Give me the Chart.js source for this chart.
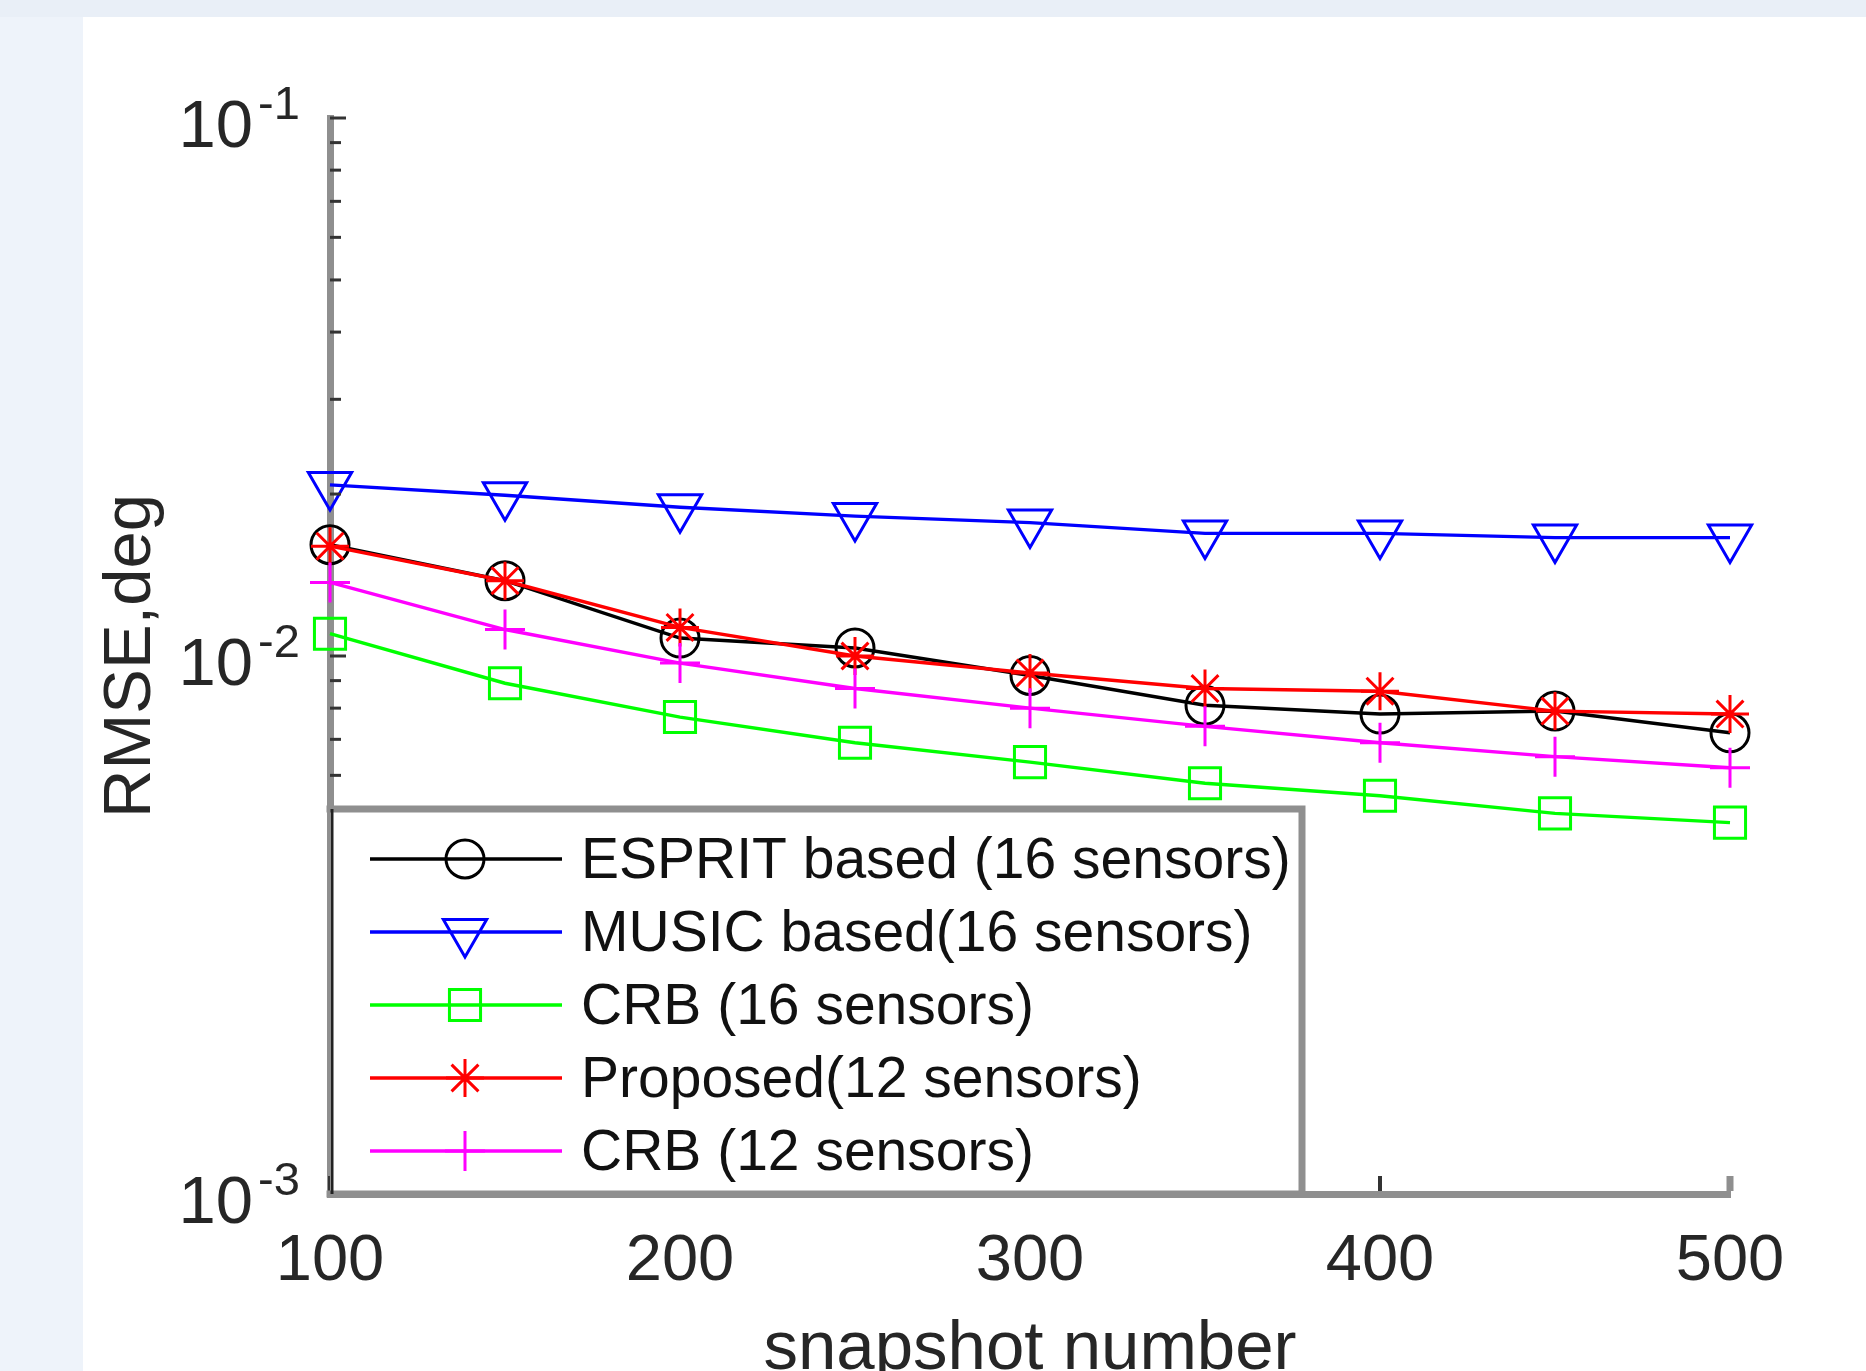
<!DOCTYPE html>
<html>
<head>
<meta charset="utf-8">
<script src="https://cdn.jsdelivr.net/npm/chart.js@4.4.1/dist/chart.umd.min.js"></script>
<style>
  html, body { margin: 0; padding: 0; }
  body { width: 1866px; height: 1371px; background: #e9eff7; position: relative; overflow: hidden; }
  #strip { position: absolute; left: 0; top: 17px; width: 83px; bottom: 0; background: #eef3fa; }
  #panel { position: absolute; left: 83px; top: 17px; right: 0; bottom: 0; background: #fff; }
  #chart { position: absolute; left: 0; top: 0; }
</style>
</head>
<body>
<div id="strip"></div>
<div id="panel"></div>
<canvas id="chart" width="1866" height="1371"></canvas>
<script>
// snapshot counts on the x axis
const snapshots = [100, 150, 200, 250, 300, 350, 400, 450, 500];

// RMSE (deg)
const espritRmse   = [0.0161, 0.0138, 0.0108, 0.01035, 0.0092, 0.0081, 0.0078, 0.0079, 0.0072];
const musicRmse    = [0.0208, 0.0199, 0.0189, 0.0182, 0.0177, 0.0169, 0.0169, 0.0166, 0.0166];
const crb16Rmse    = [0.0110, 0.0089, 0.0077, 0.0069, 0.00635, 0.0058, 0.0055, 0.0051, 0.0049];
const proposedRmse = [0.0160, 0.0138, 0.0113, 0.0100, 0.0093, 0.0087, 0.0086, 0.0079, 0.0078];
const crb12Rmse    = [0.0137, 0.0112, 0.0097, 0.0087, 0.0080, 0.0074, 0.0069, 0.0065, 0.0062];

const seriesLabels = [
  'ESPRIT based (16 sensors)',
  'MUSIC based(16 sensors)',
  'CRB (16 sensors)',
  'Proposed(12 sensors)',
  'CRB (12 sensors)',
];

const yTickExps = [-1, -2, -3];
const xTicks    = [100, 200, 300, 400, 500];

const FONT      = '"Liberation Sans", Arial, Helvetica, sans-serif';
const AXIS_GRAY = '#8f8f8f';
const TEXT      = '#262626';

function series(label, data, color, style, radius, rotation, order) {
  return {
    label, data, order,
    borderColor:          color,
    borderWidth:          3.4,
    pointStyle:           style,
    pointRadius:          radius,
    pointRotation:        rotation,
    pointBorderColor:     color,
    pointBorderWidth:     3,
    pointBackgroundColor: 'rgba(0,0,0,0)',
    pointHoverRadius:     radius,
    tension:              0,
    clip:                 false,
    fill:                 false,
  };
}

const datasets = [
  series(seriesLabels[0], espritRmse,   '#000000', 'circle',   19, 0,   5),
  series(seriesLabels[1], musicRmse,    '#0000ff', 'triangle', 25, 180, 4),
  series(seriesLabels[2], crb16Rmse,    '#00ff00', 'rect',     22, 0,   3),
  series(seriesLabels[3], proposedRmse, '#ff0000', 'star',     19, 0,   2),
  series(seriesLabels[4], crb12Rmse,    '#ff00ff', 'cross',    20, 0,   1),
];

// marker for the legend, same shapes as chart.js point styles
function drawMarker(ctx, style, x, y, r, rot) {
  ctx.beginPath();
  if (style === 'circle') {
    ctx.arc(x, y, r, 0, Math.PI * 2);
  } else if (style === 'triangle') {
    let a = rot * Math.PI / 180;
    for (let i = 0; i < 3; i++) {
      const px = x + Math.sin(a) * r, py = y - Math.cos(a) * r;
      i ? ctx.lineTo(px, py) : ctx.moveTo(px, py);
      a += Math.PI * 2 / 3;
    }
    ctx.closePath();
  } else if (style === 'rect') {
    const s = Math.SQRT1_2 * r;
    ctx.rect(x - s, y - s, 2 * s, 2 * s);
  } else if (style === 'star' || style === 'cross') {
    ctx.moveTo(x - r, y); ctx.lineTo(x + r, y);
    ctx.moveTo(x, y - r); ctx.lineTo(x, y + r);
    if (style === 'star') {
      const d = r * Math.SQRT1_2;
      ctx.moveTo(x - d, y - d); ctx.lineTo(x + d, y + d);
      ctx.moveTo(x - d, y + d); ctx.lineTo(x + d, y - d);
    }
  }
  ctx.stroke();
}

const figureDecor = {
  id: 'figureDecor',
  afterDatasetsDraw(chart) {
    const ctx = chart.ctx;
    const area = chart.chartArea;
    const ys = chart.scales.y, xs = chart.scales.x;
    ctx.save();

    // inward y ticks (log minor + major)
    ctx.strokeStyle = '#333';
    ctx.lineWidth = 3;
    for (let e = -3; e <= -1; e++) {
      const yp = ys.getPixelForValue(Math.pow(10, e));
      ctx.beginPath(); ctx.moveTo(area.left, yp); ctx.lineTo(area.left + 16, yp); ctx.stroke();
      if (e === -1) continue;
      for (let m = 2; m <= 9; m++) {
        const yy = ys.getPixelForValue(m * Math.pow(10, e));
        ctx.beginPath(); ctx.moveTo(area.left, yy); ctx.lineTo(area.left + 11, yy); ctx.stroke();
      }
    }

    // inward x ticks
    xTicks.forEach((v, i) => {
      const xp = xs.getPixelForValue(v);
      ctx.strokeStyle = i === xTicks.length - 1 ? AXIS_GRAY : '#333';
      ctx.lineWidth = i === xTicks.length - 1 ? 7 : 4;
      ctx.beginPath(); ctx.moveTo(xp, area.bottom - 3); ctx.lineTo(xp, area.bottom - 18); ctx.stroke();
    });

    // y tick labels as 10^e
    ctx.fillStyle = TEXT;
    yTickExps.forEach(e => {
      const yp = ys.getPixelForValue(Math.pow(10, e));
      ctx.textBaseline = 'middle';
      ctx.font = `67px ${FONT}`;
      ctx.textAlign = 'right';
      ctx.fillText('10', area.left - 77, yp + 11);
      ctx.font = `47px ${FONT}`;
      ctx.textAlign = 'left';
      ctx.fillText(String(e), area.left - 72, yp - 12);
    });
    ctx.restore();
  },
  afterDraw(chart) {
    const ctx = chart.ctx;
    const area = chart.chartArea;
    const left = area.left, right = area.left + 972;
    const top = area.bottom - 385, bottom = area.bottom;
    ctx.save();
    ctx.fillStyle = '#fff';
    ctx.fillRect(left, top, right - left, bottom - top);
    ctx.strokeStyle = AXIS_GRAY;
    ctx.lineWidth = 7;
    ctx.beginPath();
    ctx.moveTo(left - 3.5, top); ctx.lineTo(right, top); ctx.lineTo(right, bottom);
    ctx.lineTo(left - 3.5, bottom);
    ctx.stroke();
    ctx.strokeStyle = '#222';
    ctx.lineWidth = 3;
    ctx.beginPath(); ctx.moveTo(left + 2, top); ctx.lineTo(left + 2, bottom); ctx.stroke();

    ctx.font = `57px ${FONT}`;
    ctx.textBaseline = 'middle';
    ctx.textAlign = 'left';
    chart.data.datasets.forEach((ds, i) => {
      const yy = top + 50 + i * 73;
      ctx.strokeStyle = ds.borderColor;
      ctx.lineWidth = ds.borderWidth;
      ctx.beginPath(); ctx.moveTo(left + 40, yy); ctx.lineTo(left + 232, yy); ctx.stroke();
      ctx.lineWidth = ds.pointBorderWidth;
      drawMarker(ctx, ds.pointStyle, left + 135, yy, ds.pointRadius, ds.pointRotation);
      ctx.fillStyle = '#111';
      ctx.fillText(ds.label, left + 251, yy + 3);
    });
    ctx.restore();
  },
};

new Chart(document.getElementById('chart'), {
  type: 'line',
  data: { labels: snapshots, datasets: datasets.map(ds => ({
    ...ds, data: ds.data.map((v, i) => ({ x: snapshots[i], y: v })),
  })) },
  options: {
    responsive: false,
    animation:  false,
    events:     [],
    layout: { padding: { left: 0, top: 118, right: 136, bottom: 0 } },
    plugins: { legend: { display: false }, tooltip: { enabled: false } },
    scales: {
      x: {
        type: 'linear',
        min: 100, max: 500,
        afterFit: s => { s.height = 177; },
        grid:   { display: false, drawTicks: false, tickLength: 0 },
        border: { display: true, color: AXIS_GRAY, width: 7 },
        ticks: {
          stepSize: 100, autoSkip: false, maxRotation: 0,
          color: TEXT, padding: 29,
          font: { family: FONT, size: 65 },
        },
        title: {
          display: true, text: 'snapshot number', color: TEXT,
          padding: 0, font: { family: FONT, size: 69, lineHeight: 0.6 },
        },
      },
      y: {
        type: 'logarithmic',
        min: 0.001, max: 0.1,
        afterFit: s => { s.width = 330; },
        grid:   { display: false, drawTicks: false, tickLength: 0 },
        border: { display: true, color: AXIS_GRAY, width: 7 },
        ticks:  { display: false },
        title: {
          display: true, text: 'RMSE,deg', color: TEXT,
          padding: { top: 91, bottom: 0 }, font: { family: FONT, size: 67 },
        },
      },
    },
  },
  plugins: [figureDecor],
});
</script>
</body>
</html>
